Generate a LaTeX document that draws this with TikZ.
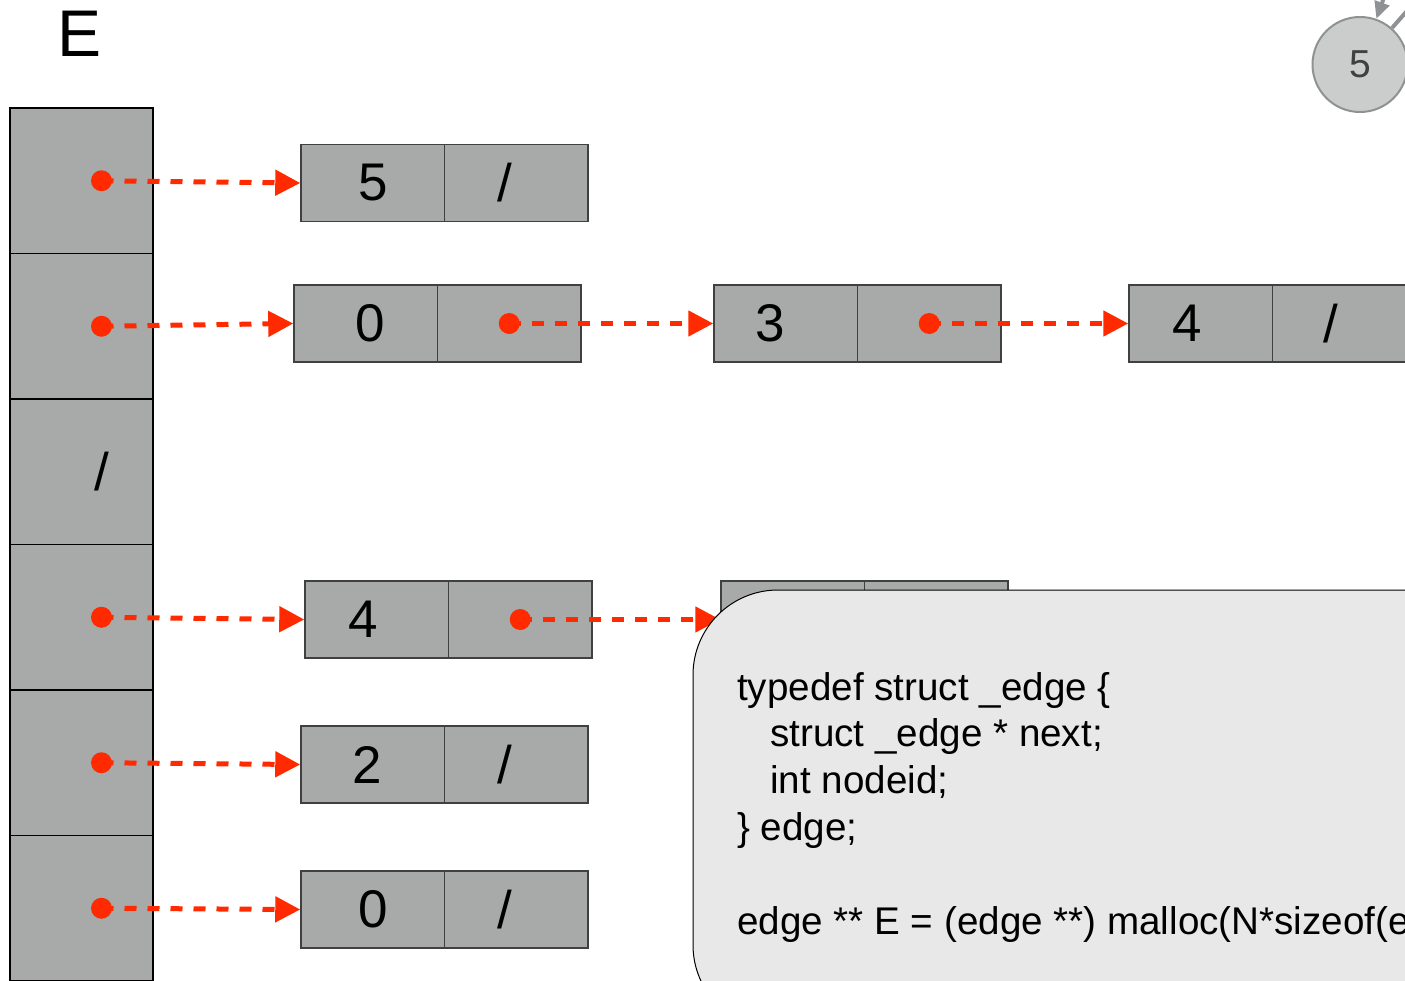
\documentclass[tikz,border=0pt]{standalone}
\usepackage{fontspec}
\setmainfont{Liberation Sans}
\usetikzlibrary{arrows.meta}
\definecolor{cellgrey}{HTML}{A7AAA9}
\definecolor{ptrred}{HTML}{FF2A00}
\definecolor{notegrey}{HTML}{E8E8E8}
\definecolor{nodegrey}{HTML}{CBCDCD}
\definecolor{edgegrey}{HTML}{8F9294}
\tikzset{
  ecell/.style={draw=black, line width=1.5pt, fill=cellgrey, minimum width=143pt, minimum height=145.5pt, inner sep=0pt, font=\fontsize{53}{60}\selectfont},
  listcell/.style={draw=black!75, line width=1.5pt, fill=cellgrey, minimum width=143.5pt, minimum height=77pt, inner sep=0pt, font=\fontsize{53}{60}\selectfont},
  ptrarrow/.style={draw=ptrred, line width=5pt, dash pattern=on 12pt off 11pt, -{Triangle[length=25pt,width=25pt]}},
  note/.style={draw=black, line width=1pt, fill=notegrey, rounded corners=85pt, minimum width=900pt, minimum height=440pt, inner sep=0pt},
  gnode/.style={circle, draw=edgegrey, line width=2pt, fill=nodegrey, minimum size=95pt, inner sep=0pt, text=black!75, font=\fontsize{39}{45}\selectfont},
  gedge/.style={draw=edgegrey, line width=4pt}
}
\begin{document}
\begin{tikzpicture}[x=1pt,y=-1pt]
\newcommand\listbox[5]{
\node[listcell] (#1v) at (#2+71.75,#3) {#4};
\node[listcell] (#1p) at (#2+215.25,#3) {#5};
}
\newcommand\pointer[2]{
\fill[ptrred] (#1) circle (10.5pt);
\path[ptrarrow] (#1) -- (#2.west);
}
\useasboundingbox (0,0) rectangle (1405,980);
\clip (0,0) rectangle (1405,980);
\node[inner sep=0pt, font=\fontsize{66}{70}\selectfont] (elabel) at (80,34) {E};
% array E
\node[ecell] (e1) at (81.5,180.75) {};
\node[ecell] (e2) at (81.5,326.25) {};
\node[ecell] (e3) at (81.5,471.75) {\hspace*{40pt}/};
\node[ecell] (e4) at (81.5,617.25) {};
\node[ecell] (e5) at (81.5,762.75) {};
\node[ecell] (e6) at (81.5,908.25) {};
% edge lists
\listbox{r1}{301}{183}{5}{/\hspace*{22pt}}
\listbox{r2a}{294}{323.5}{\hspace*{9pt}0}{}
\listbox{r2b}{714}{323.5}{3\hspace*{32pt}}{}
\listbox{r2c}{1129}{323.5}{4\hspace*{28pt}}{/\hspace*{26pt}}
\listbox{r4a}{305}{619.5}{4\hspace*{28pt}}{}
\listbox{r4b}{721}{619.5}{}{}
\listbox{r5}{301}{764.5}{2\hspace*{11pt}}{/\hspace*{22pt}}
\listbox{r6}{301}{909.5}{0}{/\hspace*{22pt}}
\pointer{[xshift=20pt]e1.center}{r1v}
\pointer{[xshift=20pt]e2.center}{r2av}
\pointer{r2ap.center}{r2bv}
\pointer{r2bp.center}{r2cv}
\pointer{[xshift=20pt]e4.center}{r4av}
\pointer{r4ap.center}{r4bv}
\pointer{[xshift=20pt]e5.center}{r5v}
\pointer{[xshift=20pt]e6.center}{r6v}
% struct note
\node[note] (note) at (1143,810) {};
\node[anchor=base west, align=left, inner sep=0pt, font=\fontsize{38.6}{46.8}\selectfont] (code) at (737,934)
  {typedef struct \_edge \{\\
   \hspace*{33pt}struct \_edge * next;\\
   \hspace*{33pt}int nodeid;\\
   \} edge;\\
   \\
   edge ** E = (edge **) malloc(N*sizeof(edge *));};
% graph node
\node[gnode] (g5) at (1360,64.5) {5};
\coordinate (g5in) at (1411,-78);
\coordinate (g5out) at (1456,-45);
\path[gedge,-{Triangle[length=17pt,width=15pt]}] (g5in) -- (g5);
\path[gedge] (g5) -- (g5out);
\end{tikzpicture}
\end{document}
